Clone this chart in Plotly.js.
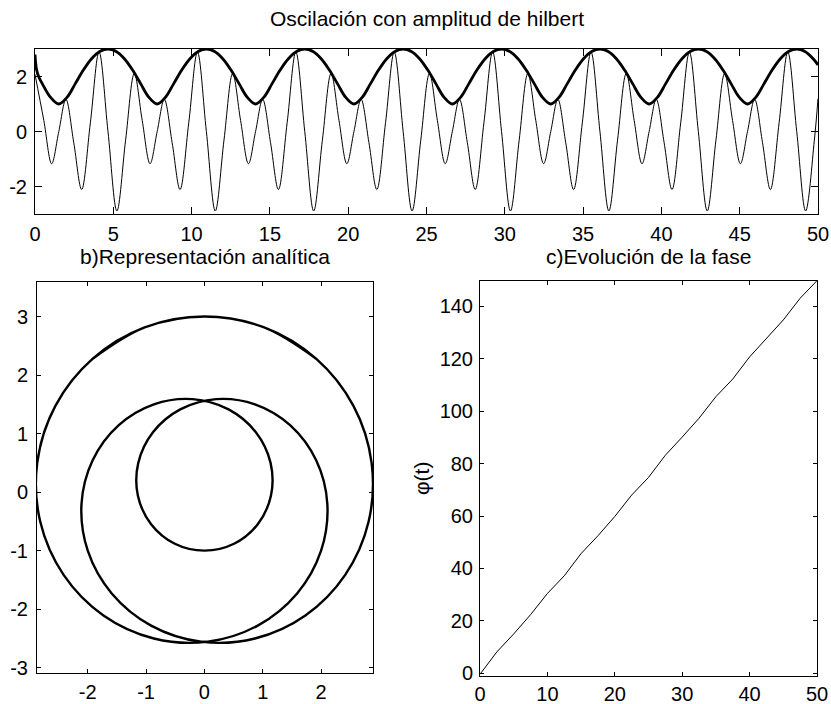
<!DOCTYPE html>
<html><head><meta charset="utf-8">
<script src="https://cdn.plot.ly/plotly-3.0.1.min.js"></script>
<style>html,body{margin:0;padding:0;background:#fff;}#plot{width:831px;height:704px;}</style>
</head><body><div id="plot"></div>
<script>
// ---------- data ----------
// a) signal (extrema and mid points) and its Hilbert amplitude
const sigT = [0, 0.562, 1.064, 1.519, 1.973, 2.475, 2.979, 3.535,
 4.090, 4.660, 5.230, 5.785, 6.341, 6.845, 7.347, 7.802, 8.256, 8.758, 9.262, 9.818,
 10.373, 10.943, 11.513, 12.068, 12.624, 13.128, 13.630, 14.085, 14.539, 15.041, 15.545, 16.101,
 16.656, 17.226, 17.796, 18.351, 18.907, 19.411, 19.913, 20.368, 20.822, 21.324, 21.828, 22.384,
 22.939, 23.509, 24.079, 24.634, 25.190, 25.694, 26.196, 26.651, 27.105, 27.607, 28.111, 28.667,
 29.222, 29.792, 30.362, 30.917, 31.473, 31.977, 32.479, 32.934, 33.388, 33.890, 34.394, 34.950,
 35.505, 36.075, 36.645, 37.200, 37.756, 38.260, 38.762, 39.217, 39.671, 40.173, 40.677, 41.233,
 41.788, 42.358, 42.928, 43.483, 44.039, 44.543, 45.045, 45.500, 45.954, 46.456, 46.960, 47.516,
 48.071, 48.641, 49.211, 49.766, 50];
const sigV = [2.08, 0.405, -1.17, 0, 1.17, -0.405, -2.11, 0.316,
 2.89, 0, -2.89, -0.316, 2.11, 0.405, -1.17, 0, 1.17, -0.405, -2.11, 0.316,
 2.89, 0, -2.89, -0.316, 2.11, 0.405, -1.17, 0, 1.17, -0.405, -2.11, 0.316,
 2.89, 0, -2.89, -0.316, 2.11, 0.405, -1.17, 0, 1.17, -0.405, -2.11, 0.316,
 2.89, 0, -2.89, -0.316, 2.11, 0.405, -1.17, 0, 1.17, -0.405, -2.11, 0.316,
 2.89, 0, -2.89, -0.316, 2.11, 0.405, -1.17, 0, 1.17, -0.405, -2.11, 0.316,
 2.89, 0, -2.89, -0.316, 2.11, 0.405, -1.17, 0, 1.17, -0.405, -2.11, 0.316,
 2.89, 0, -2.89, -0.316, 2.11, 0.405, -1.17, 0, 1.17, -0.405, -2.11, 0.316,
 2.89, 0, -2.89, -0.316, 1.19];
const envT = [0, 0.1, 0.25, 0.471, 0.995, 1.518, 2.042, 2.566, 3.089, 3.613, 4.136,
 4.660, 5.184, 5.707, 6.231, 6.754, 7.278, 7.802, 8.325, 8.849, 9.372, 9.896, 10.420,
 10.943, 11.467, 11.990, 12.514, 13.038, 13.561, 14.085, 14.609, 15.132, 15.656, 16.179, 16.703,
 17.226, 17.750, 18.274, 18.797, 19.321, 19.844, 20.368, 20.892, 21.415, 21.939, 22.463, 22.986,
 23.510, 24.033, 24.557, 25.081, 25.604, 26.128, 26.652, 27.175, 27.699, 28.222, 28.746, 29.270,
 29.793, 30.317, 30.840, 31.364, 31.888, 32.411, 32.935, 33.459, 33.982, 34.506, 35.029, 35.553,
 36.076, 36.600, 37.124, 37.647, 38.171, 38.694, 39.218, 39.742, 40.265, 40.789, 41.313, 41.836,
 42.360, 42.883, 43.407, 43.931, 44.454, 44.978, 45.501, 46.025, 46.549, 47.072, 47.596, 48.119,
 48.643, 49.166, 49.690, 50];
const envV = [2.8, 2.25, 1.97, 1.732, 1.239, 1, 1.239, 1.732, 2.236, 2.646, 2.909,
 3, 2.909, 2.646, 2.236, 1.732, 1.239, 1, 1.239, 1.732, 2.236, 2.646, 2.909,
 3, 2.909, 2.646, 2.236, 1.732, 1.239, 1, 1.239, 1.732, 2.236, 2.646, 2.909,
 3, 2.909, 2.646, 2.236, 1.732, 1.239, 1, 1.239, 1.732, 2.236, 2.646, 2.909,
 3, 2.909, 2.646, 2.236, 1.732, 1.239, 1, 1.239, 1.732, 2.236, 2.646, 2.909,
 3, 2.909, 2.646, 2.236, 1.732, 1.239, 1, 1.239, 1.732, 2.236, 2.646, 2.909,
 3, 2.909, 2.646, 2.236, 1.732, 1.239, 1, 1.239, 1.732, 2.236, 2.646, 2.909,
 3, 2.909, 2.646, 2.236, 1.732, 1.239, 1, 1.239, 1.732, 2.236, 2.646, 2.909,
 3, 2.909, 2.646, 2.418];

// b) analytic representation (real part, imaginary part)
const anX = [1.914, 1.024,
 0, -1.024, -1.914, -2.555, -2.866, -2.814, -2.414, -1.731, -0.866, 0.058, 0.914, 1.589,
 2, 2.107, 1.914, 1.473, 0.866, 0.201, -0.414, -0.882, -1.134, -1.141, -0.914, -0.507,
 0, 0.507, 0.914, 1.141, 1.134, 0.882, 0.414, -0.201, -0.866, -1.473, -1.914, -2.107,
 -2, -1.589, -0.914, -0.058, 0.866, 1.731, 2.414, 2.814, 2.866, 2.555, 1.914, 1.024,
 0, -1.024, -1.914];
const anY = [2.280, 2.814,
 3, 2.814, 2.280, 1.473, 0.5, -0.507, -1.414, -2.107, -2.5, -2.555, -2.280, -1.731,
 -1, -0.201, 0.548, 1.141, 1.5, 1.589, 1.414, 1.024, 0.5, -0.058, -0.548, -0.882,
 -1, -0.882, -0.548, -0.058, 0.5, 1.024, 1.414, 1.589, 1.5, 1.141, 0.548, -0.201,
 -1, -1.731, -2.280, -2.555, -2.5, -2.107, -1.414, -0.507, 0.5, 1.473, 2.280, 2.814,
 3, 2.814, 2.280];

// c) phase evolution
const phT = [0, 2.5, 5, 7.5, 10, 12.5, 15, 17.5, 20, 22.5, 25, 27.5, 30, 32.5, 35, 37.5, 40, 42.5, 45, 47.5, 50];
const phV = [-0.32, 8.18, 15.04, 22.38, 30.46, 37.20, 45.68, 52.47, 59.83, 67.98, 74.71, 83.17, 90.09, 97.29, 105.5, 112.23, 120.66, 127.61, 134.75, 143.02, 149.74];

// tick labels
const topXTicks = [0, 5, 10, 15, 20, 25, 30, 35, 40, 45, 50];
const topXText = ['0','5','10','15','20','25','30','35','40','45','50'];
const topYTicks = [-2, 0, 2];
const topYText = ['-2','0','2'];
const bXTicks = [-2, -1, 0, 1, 2];
const bXText = ['-2','-1','0','1','2'];
const bYTicks = [-3, -2, -1, 0, 1, 2, 3];
const bYText = ['-3','-2','-1','0','1','2','3'];
const cXTicks = [0, 10, 20, 30, 40, 50];
const cXText = ['0','10','20','30','40','50'];
const cYTicks = [0, 20, 40, 60, 80, 100, 120, 140];
const cYText = ['0','20','40','60','80','100','120','140'];

const titleMain = 'Oscilación con amplitud de hilbert';
const titleB = 'b)Representación analítica';
const titleC = 'c)Evolución de la fase';
const labelPhi = 'φ(t)';

// ---------- layout ----------
const W = 831, H = 704;
const FONT = 'Liberation Sans, Arial, Helvetica, sans-serif';
const FS_TICK = 20, FS_TITLE = 21;
function dX(a, b) { return [a / W, b / W]; }
function dY(top, bottom) { return [1 - bottom / H, 1 - top / H]; }
function ax(o) {
  return Object.assign({
    showline: true, linecolor: '#000', linewidth: 1, mirror: 'ticks',
    ticks: 'inside', tickcolor: '#000', tickwidth: 1, showgrid: false, zeroline: false,
    tickmode: 'array', tickfont: { family: FONT, size: FS_TICK, color: '#000' },
    fixedrange: true
  }, o);
}

const traces = [
  { x: sigT, y: sigV, xaxis: 'x', yaxis: 'y', mode: 'lines', hoverinfo: 'skip',
    line: { color: '#000', width: 1, shape: 'spline', smoothing: 1 } },
  { x: envT, y: envV, xaxis: 'x', yaxis: 'y', mode: 'lines', hoverinfo: 'skip',
    line: { color: '#000', width: 2.8, shape: 'spline', smoothing: 1 } },
  { x: anX, y: anY, xaxis: 'x2', yaxis: 'y2', mode: 'lines', hoverinfo: 'skip',
    line: { color: '#000', width: 2.4, shape: 'spline', smoothing: 1 } },
  { x: phT, y: phV, xaxis: 'x3', yaxis: 'y3', mode: 'lines', hoverinfo: 'skip',
    line: { color: '#000', width: 1 } }
];

function ann(text, px, py, angle) {
  return { text: text, x: px / W, y: 1 - py / H, xref: 'paper', yref: 'paper',
    showarrow: false, xanchor: 'center', yanchor: 'middle', textangle: angle || 0,
    font: { family: FONT, size: FS_TITLE, color: '#000' } };
}

const layout = {
  width: W, height: H, margin: { l: 0, r: 0, t: 0, b: 0 },
  paper_bgcolor: '#fff', plot_bgcolor: '#fff', showlegend: false,
  xaxis: ax({ domain: dX(35, 818), anchor: 'y', range: [0, 50], tickvals: topXTicks, ticktext: topXText, ticklen: 7, ticklabelstandoff: 2 }),
  yaxis: ax({ domain: dY(49, 214), anchor: 'x', range: [-3, 3], tickvals: topYTicks, ticktext: topYText, ticklen: 7, ticklabelstandoff: 3 }),
  xaxis2: ax({ domain: dX(37, 373), anchor: 'y2', range: [-2.87, 2.89], tickvals: bXTicks, ticktext: bXText, ticklen: 4, ticklabelstandoff: 1 }),
  yaxis2: ax({ domain: dY(282, 673), anchor: 'x2', range: [-3.09, 3.59], tickvals: bYTicks, ticktext: bYText, ticklen: 4, ticklabelstandoff: 4 }),
  xaxis3: ax({ domain: dX(480, 817), anchor: 'y3', range: [0, 50], tickvals: cXTicks, ticktext: cXText, ticklen: 4, ticklabelstandoff: 0 }),
  yaxis3: ax({ domain: dY(281, 676), anchor: 'x3', range: [-1, 149.6], tickvals: cYTicks, ticktext: cYText, ticklen: 4, ticklabelstandoff: 2 }),
  annotations: [
    ann(titleMain, 426.5, 19),
    ann(titleB, 205, 257),
    ann(titleC, 648, 257),
    ann(labelPhi, 421, 478, -90)
  ]
};

Plotly.newPlot('plot', traces, layout, { displayModeBar: false, staticPlot: true });
</script></body></html>
